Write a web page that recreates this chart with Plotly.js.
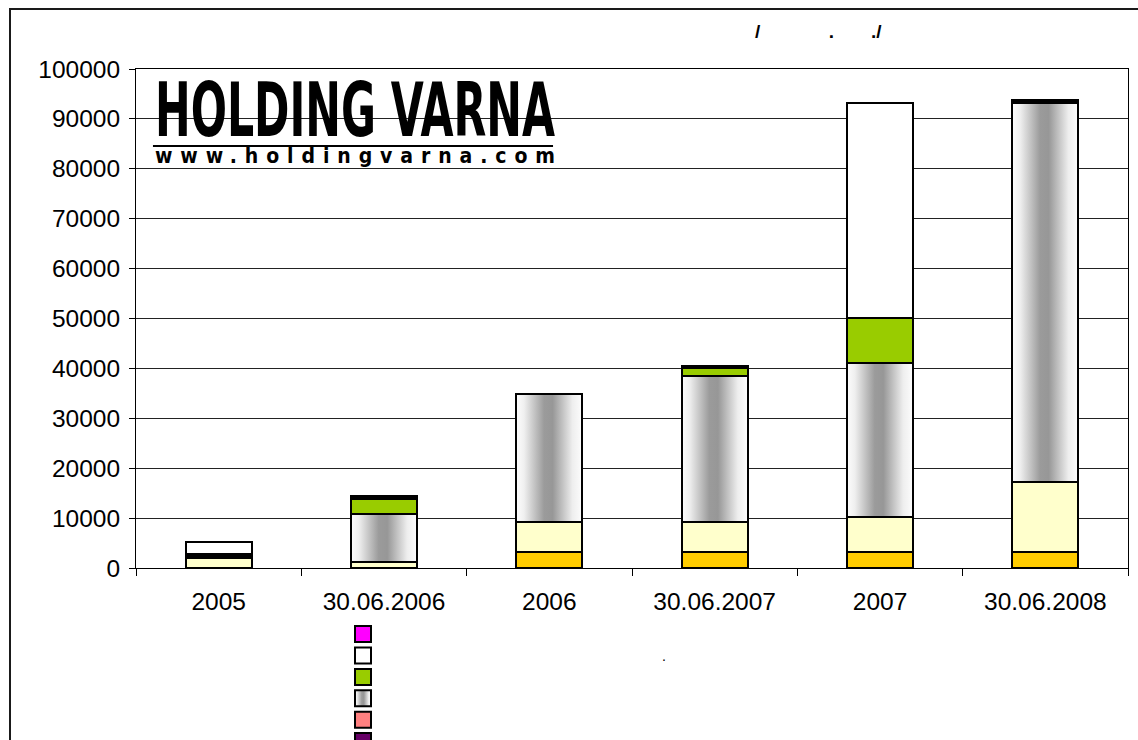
<!DOCTYPE html>
<html>
<head>
<meta charset="utf-8">
<script src="https://cdn.plot.ly/plotly-3.0.1.min.js"></script>
<style>
  html, body { margin: 0; padding: 0; background: #ffffff; overflow: hidden; }
  #chart { position: absolute; left: 0; top: 0; width: 1138px; height: 740px; }
  #frame { position: absolute; left: 9px; top: 8px; width: 1200px; height: 800px;
           border: 2px solid #1a1a1a; pointer-events: none; }
</style>
</head>
<body>
<div id="chart"></div>
<div id="frame"></div>
<script>
// ---- data ----
const categories = ['2005', '30.06.2006', '2006', '30.06.2007', '2007', '30.06.2008'];
const orangeVals   = [0, 0, 3250, 3250, 3270, 3270];
const yellowVals   = [2100, 1200, 6050, 5900, 6890, 14030];
const silverVals   = [0, 9620, 25520, 29330, 30860, 75830];
const greenVals    = [0, 3010, 0, 1670, 9140, 0];
const blackVals    = [700, 700, 0, 350, 0, 600];
const whiteVals    = [2350, 0, 0, 0, 43090, 0];
const magentaVals  = [0, 0, 0, 0, 0, 0];
const salmonVals   = [0, 0, 0, 0, 0, 0];
const purpleVals   = [0, 0, 0, 0, 0, 0];
const yTickVals = [0, 10000, 20000, 30000, 40000, 50000, 60000, 70000, 80000, 90000, 100000];
const titleText = '/' + '\u00A0'.repeat(13) + '.' + '\u00A0'.repeat(7) + './';
const whiteLegendName = '\u00A0'.repeat(71) + '.';
const logoText = 'HOLDING VARNA';
const logoUrl = 'www.holdingvarna.com';

// ---- traces (stack order, bottom to top) ----
const seriesDefs = [
  { vals: orangeVals,  color: '#FFCC00', rank: 8, name: '\u00A0', uid: 'orange' },
  { vals: yellowVals,  color: '#FFFFCC', rank: 7, name: '\u00A0', uid: 'yellow' },
  { vals: silverVals,  color: '#C0C0C0', rank: 4, name: '\u00A0', uid: 'silver' },
  { vals: greenVals,   color: '#99CC00', rank: 3, name: '\u00A0', uid: 'green' },
  { vals: blackVals,   color: '#000000', rank: 9, name: '\u00A0', uid: 'black', hide: true },
  { vals: whiteVals,   color: '#FFFFFF', rank: 2, name: whiteLegendName, uid: 'white' },
  { vals: magentaVals, color: '#FF00FF', rank: 1, name: '\u00A0', uid: 'magenta' },
  { vals: salmonVals,  color: '#FF8080', rank: 5, name: '\u00A0', uid: 'salmon' },
  { vals: purpleVals,  color: '#660066', rank: 6, name: '\u00A0', uid: 'purple' }
];

const traces = seriesDefs.map(s => ({
  type: 'bar',
  x: categories,
  y: s.vals,
  name: s.name,
  uid: s.uid,
  legendrank: s.rank,
  showlegend: !s.hide,
  marker: { color: s.color, line: { color: '#000000', width: 2 } },
  hoverinfo: 'none'
}));

const fontFam = '"Liberation Sans", Arial, sans-serif';

const layout = {
  width: 1138,
  height: 740,
  paper_bgcolor: '#ffffff',
  plot_bgcolor: '#ffffff',
  barmode: 'stack',
  bargap: 0.6,
  font: { family: fontFam, color: '#000000', size: 24 },
  margin: { l: 136, r: 10, t: 69, b: 172, autoexpand: false },
  title: {
    text: titleText,
    font: { family: fontFam, size: 19, color: '#000000', weight: 'bold' },
    xref: 'container', x: 0.6634, xanchor: 'left',
    yref: 'container', y: 0.958, yanchor: 'middle'
  },
  xaxis: {
    type: 'category',
    showgrid: false,
    showline: true, mirror: true, linecolor: '#000000', linewidth: 1,
    ticks: 'outside', tickson: 'boundaries', ticklen: 7, tickcolor: '#000000',
    ticklabelstandoff: 12,
    tickfont: { family: fontFam, size: 24.5, color: '#000000' },
    zeroline: false
  },
  yaxis: {
    range: [0, 100000],
    tickvals: yTickVals,
    tickformat: 'd',
    showgrid: true, gridcolor: '#222222', gridwidth: 1,
    showline: true, mirror: true, linecolor: '#000000', linewidth: 1,
    ticks: 'outside', ticklen: 6, tickcolor: '#000000',
    ticklabelstandoff: 4,
    tickfont: { family: fontFam, size: 24.5, color: '#000000' },
    zeroline: false
  },
  legend: {
    orientation: 'v',
    x: 0.2087, xanchor: 'left',
    y: -0.101, yanchor: 'top',
    bgcolor: 'rgba(0,0,0,0)',
    font: { family: fontFam, size: 14.15, color: '#000000' },
    traceorder: 'normal'
  },
  shapes: [
    { type: 'line', xref: 'paper', yref: 'paper', x0: 0.0171, x1: 0.4204, y0: 0.8457, y1: 0.8457,
      line: { color: '#000000', width: 2 } }
  ],
  annotations: [
    { text: '<span style="font-size:74px">' + logoText + '</span><br>' + logoUrl,
      xref: 'paper', yref: 'paper', x: 0.0171, y: 1.009,
      xanchor: 'left', yanchor: 'top', align: 'left', showarrow: false,
      font: { family: '"DejaVu Sans Condensed", "DejaVu Sans", sans-serif', size: 21, color: '#000000', weight: 'bold' } }
  ]
};

Plotly.newPlot('chart', traces, layout, { staticPlot: true, displayModeBar: false }).then(gd => {
  const ns = 'http://www.w3.org/2000/svg';
  const svg = gd.querySelector('svg.main-svg');
  let defs = svg.querySelector('defs');
  if (!defs) { defs = document.createElementNS(ns, 'defs'); svg.insertBefore(defs, svg.firstChild); }
  const lg = document.createElementNS(ns, 'linearGradient');
  lg.setAttribute('id', 'silverGrad');
  lg.setAttribute('x1', '0'); lg.setAttribute('y1', '0');
  lg.setAttribute('x2', '1'); lg.setAttribute('y2', '0');
  [[0, '#fdfdfd'], [0.12, '#efefef'], [0.42, '#9b9b9b'], [0.55, '#979797'], [0.85, '#eeeeee'], [1, '#fdfdfd']]
    .forEach(([o, c]) => {
      const st = document.createElementNS(ns, 'stop');
      st.setAttribute('offset', o); st.setAttribute('stop-color', c);
      lg.appendChild(st);
    });
  defs.appendChild(lg);

  // gradient bars
  gd.querySelectorAll('.barlayer .trace.bars').forEach(g => {
    const d = g.__data__;
    const tr = d && d[0] && d[0].trace;
    if (tr && tr.uid === 'silver') {
      g.querySelectorAll('path').forEach(p => { p.style.fill = 'url(#silverGrad)'; });
    }
  });

  // legend symbols: enlarge, gradient for silver
  gd.querySelectorAll('.legend .traces').forEach(g => {
    const d = g.__data__;
    const tr = d && d[0] && d[0].trace;
    g.querySelectorAll('.legendpoints path').forEach(p => {
      p.setAttribute('d', 'M8,8H-8V-8H8Z');
      p.style.strokeWidth = '2px';
      if (tr && tr.uid === 'silver') p.style.fill = 'url(#silverGrad)';
    });
  });

  // logo text fitting (per tspan)
  gd.querySelectorAll('.annotation-text tspan').forEach(t => {
    if (t.children.length) return;
    const txt = t.textContent;
    if (txt === logoText) {
      t.setAttribute('textLength', '400');
      t.setAttribute('lengthAdjust', 'spacingAndGlyphs');
    } else if (txt === logoUrl) {
      t.setAttribute('textLength', '400');
      t.setAttribute('lengthAdjust', 'spacing');
    }
  });
});
</script>
</body>
</html>
